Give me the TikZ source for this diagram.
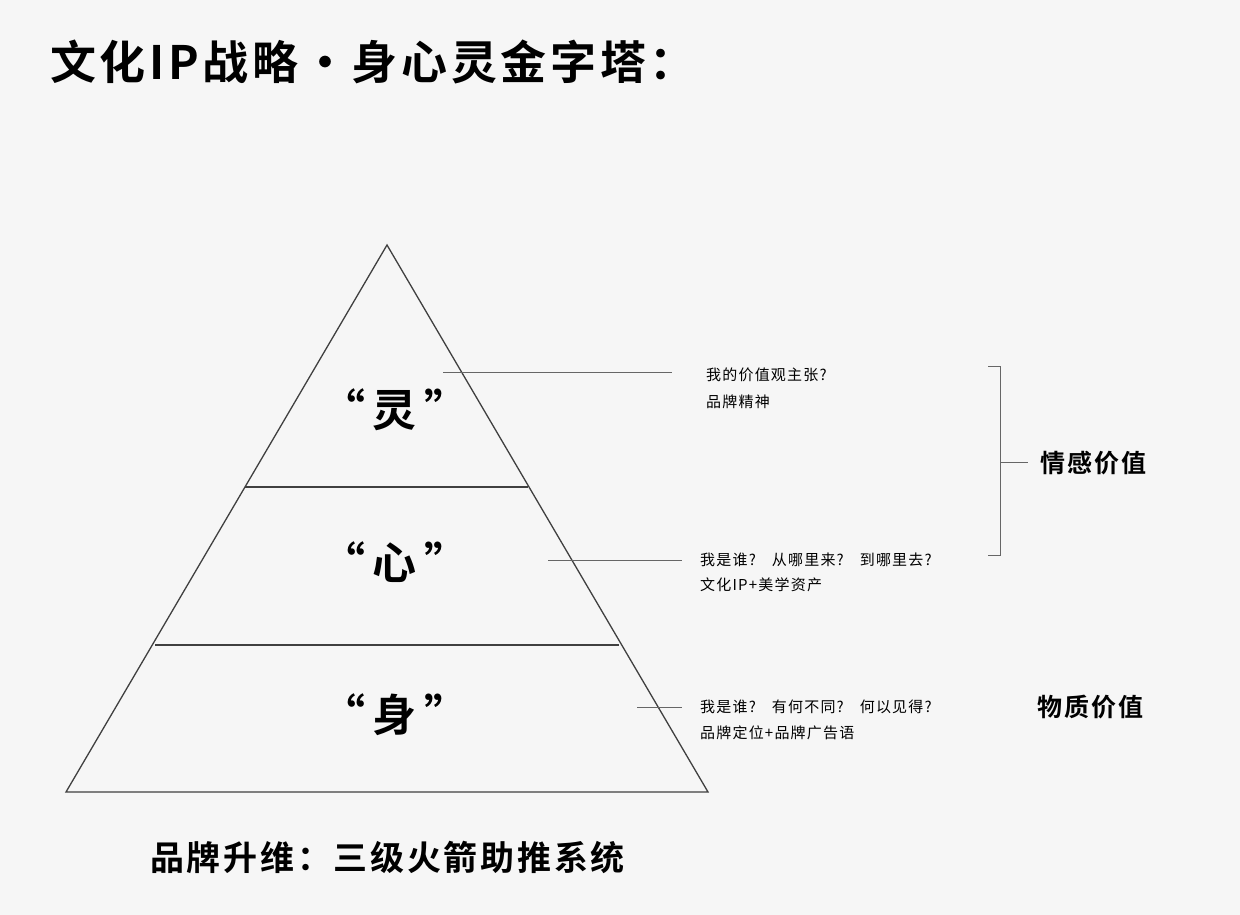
\documentclass[tikz,border=0pt]{standalone}
\usepackage{fontspec}
\setmainfont{Noto Sans CJK SC}
\newfontfamily\cjkb{Noto Sans CJK SC Bold}
\newfontfamily\cjkbs[LetterSpace=8]{Noto Sans CJK SC Bold}
\newfontfamily\cjks[LetterSpace=8]{Noto Sans CJK SC}
\begin{document}
\begin{tikzpicture}[x=1pt,y=-1pt,
  ln/.style={draw=black!75,line width=1.3pt},
  thin/.style={draw=black!60,line width=0.9pt},
  small/.style={anchor=west,inner sep=0,font=\cjks\fontsize{15}{17}\selectfont},
  big/.style={inner sep=0,font=\cjkb\fontsize{44}{48}\selectfont},
  val/.style={anchor=west,inner sep=0,font=\cjkbs\fontsize{25}{28}\selectfont}]
\fill[gray!7] (0,0) rectangle (1240,915);
\useasboundingbox (0,0) rectangle (1240,915);
\node[anchor=west,inner sep=0,font=\cjkbs\fontsize{46}{50}\selectfont] (title) at (50,62) {文化IP战略·身心灵金字塔：};
\coordinate (A) at (387,245); \coordinate (L) at (66,792); \coordinate (R) at (708,792);
\draw[ln] (A) -- (L) -- (R) -- cycle;
\coordinate (l1) at (245,487); \coordinate (r1) at (528,487);
\coordinate (l2) at (155,645); \coordinate (r2) at (619,645);
\draw[ln] (l1) -- (r1); \draw[ln] (l2) -- (r2);
\node[big] (ling) at (395,410) {“\,灵\,”};
\node[big] (xin) at (395,562) {“\,心\,”};
\node[big] (shen) at (395,715) {“\,身\,”};
\coordinate (a1) at (443,372); \coordinate (b1) at (672,372);
\coordinate (a2) at (548,560); \coordinate (b2) at (682,560);
\coordinate (a3) at (637,707); \coordinate (b3) at (682,707);
\draw[thin] (a1) -- (b1); \draw[thin] (a2) -- (b2); \draw[thin] (a3) -- (b3);
\node[small] (t1) at (706,375) {我的价值观主张?};
\node[small] (t1b) at (706,402) {品牌精神};
\node[small] (t2) at (700,560) {我是谁?\hspace{16pt}从哪里来?\hspace{16pt}到哪里去?};
\node[small] (t2b) at (700,585) {文化IP+美学资产};
\node[small] (t3) at (700,707) {我是谁?\hspace{16pt}有何不同?\hspace{16pt}何以见得?};
\node[small] (t3b) at (700,733) {品牌定位+品牌广告语};
\coordinate (k1) at (988,366); \coordinate (k2) at (1000,366);
\coordinate (k3) at (1000,555); \coordinate (k4) at (988,555);
\coordinate (km) at (1000,462); \coordinate (kn) at (1028,462);
\draw[thin] (k1) -- (k2) -- (k3) -- (k4); \draw[thin] (km) -- (kn);
\node[val] (v1) at (1040,463) {情感价值};
\node[val] (v2) at (1037,707) {物质价值};
\node[anchor=west,inner sep=0,font=\cjkbs\fontsize{34}{38}\selectfont] (foot) at (150,857) {品牌升维：三级火箭助推系统};
\end{tikzpicture}
\end{document}
